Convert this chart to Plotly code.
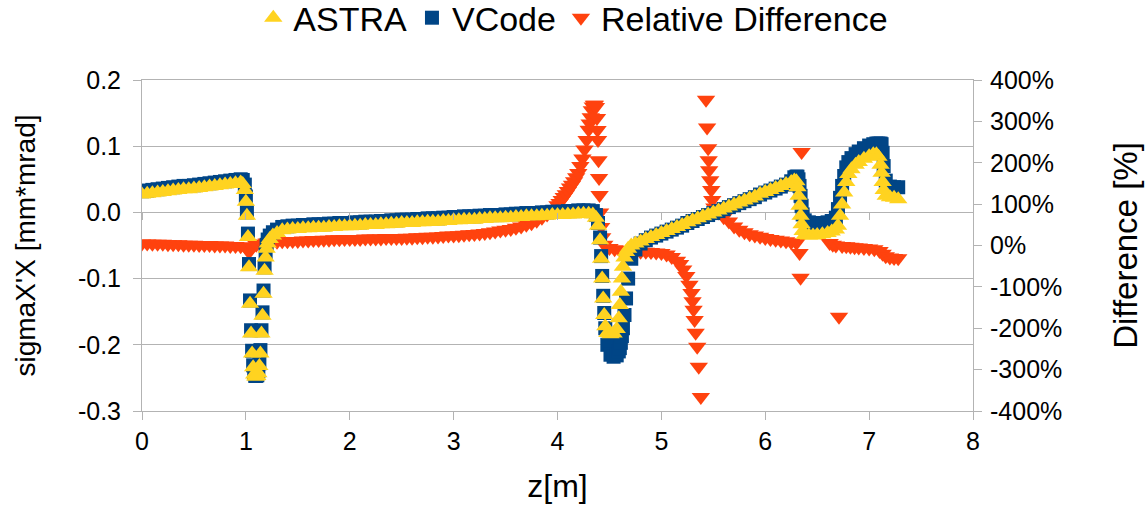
import plotly.graph_objects as go

# Longitudinal positions [m] of the beam-size samples (ASTRA and VCode share them)
z_beam = [
    0.00, 0.05, 0.10, 0.15, 0.20, 0.25, 0.30, 0.35, 0.40, 0.45,
    0.50, 0.55, 0.60, 0.65, 0.70, 0.75, 0.80, 0.85, 0.90, 0.95,
    0.97, 0.99, 1.00, 1.01, 1.02, 1.03, 1.04, 1.05, 1.06, 1.07,
    1.08, 1.09, 1.10, 1.11, 1.12, 1.13, 1.14, 1.15, 1.16, 1.17,
    1.18, 1.19, 1.20, 1.21, 1.23, 1.26, 1.30,
    1.35, 1.40, 1.45, 1.50, 1.55, 1.60, 1.65, 1.70, 1.75, 1.80,
    1.85, 1.90, 1.95, 2.00, 2.05, 2.10, 2.15, 2.20, 2.25, 2.30,
    2.35, 2.40, 2.45, 2.50, 2.55, 2.60, 2.65, 2.70, 2.75, 2.80,
    2.85, 2.90, 2.95, 3.00, 3.05, 3.10, 3.15, 3.20, 3.25, 3.30,
    3.35, 3.40, 3.45, 3.50, 3.55, 3.60, 3.65, 3.70, 3.75, 3.80,
    3.85, 3.90, 3.95, 4.00, 4.05, 4.10, 4.15, 4.20, 4.25, 4.30,
    4.34, 4.37, 4.39, 4.41, 4.42, 4.43, 4.44, 4.45, 4.46, 4.48,
    4.51, 4.54, 4.57, 4.59, 4.60, 4.61, 4.62, 4.63, 4.645, 4.66,
    4.68, 4.71, 4.75, 4.80, 4.85, 4.90, 4.95, 5.00,
    5.05, 5.10, 5.15, 5.20, 5.25, 5.30, 5.35, 5.40, 5.45, 5.50,
    5.55, 5.60, 5.65, 5.70, 5.75, 5.80, 5.85, 5.90, 5.95, 6.00,
    6.05, 6.10, 6.15, 6.20, 6.25,
    6.28, 6.30, 6.31, 6.32, 6.33, 6.34, 6.35, 6.36, 6.38, 6.42,
    6.46, 6.50, 6.55, 6.60, 6.64, 6.68, 6.70, 6.72, 6.74, 6.76,
    6.78, 6.80, 6.83, 6.87, 6.90, 6.95, 7.00, 7.04, 7.07, 7.09,
    7.11, 7.12, 7.13, 7.14, 7.16, 7.20, 7.24, 7.28,
]

# sigmaX'X [mm*mrad] from ASTRA
astra = [
    0.027, 0.028, 0.029, 0.030, 0.031, 0.032, 0.033, 0.034, 0.035, 0.035,
    0.036, 0.037, 0.038, 0.039, 0.040, 0.041, 0.042, 0.043, 0.044, 0.045,
    0.043, 0.034, 0.016, -0.005, -0.037, -0.083, -0.138, -0.183, -0.213, -0.234,
    -0.245, -0.248, -0.248, -0.247, -0.243, -0.232, -0.213, -0.183, -0.156, -0.123,
    -0.088, -0.068, -0.055, -0.047, -0.040, -0.035, -0.031,
    -0.027, -0.026, -0.025, -0.025, -0.024, -0.024, -0.023, -0.023, -0.023, -0.022,
    -0.022, -0.021, -0.021, -0.021, -0.020, -0.020, -0.019, -0.019, -0.019, -0.018,
    -0.018, -0.017, -0.017, -0.016, -0.016, -0.016, -0.015, -0.015, -0.014, -0.014,
    -0.014, -0.013, -0.013, -0.012, -0.012, -0.011, -0.011, -0.011, -0.010, -0.010,
    -0.009, -0.009, -0.009, -0.008, -0.008, -0.007, -0.007, -0.006, -0.006, -0.006,
    -0.005, -0.005, -0.004, -0.004, -0.004, -0.003, -0.003, -0.002, -0.002, -0.002,
    -0.003, -0.008, -0.020, -0.042, -0.070, -0.100, -0.130, -0.155, -0.172, -0.182,
    -0.184, -0.183, -0.176, -0.160, -0.140, -0.120, -0.100, -0.082, -0.068, -0.060,
    -0.055, -0.050, -0.047, -0.044, -0.040, -0.037, -0.034, -0.031,
    -0.028, -0.025, -0.022, -0.019, -0.015, -0.012, -0.009, -0.006, -0.003, 0.000,
    0.003, 0.006, 0.009, 0.012, 0.015, 0.018, 0.021, 0.024, 0.028, 0.031,
    0.034, 0.037, 0.040, 0.043, 0.046,
    0.048, 0.047, 0.038, 0.025, 0.010, -0.005, -0.018, -0.028, -0.034, -0.035,
    -0.035, -0.034, -0.033, -0.031, -0.029, -0.026, -0.020, -0.005, 0.012, 0.030,
    0.046, 0.058, 0.065, 0.072, 0.076, 0.081, 0.085, 0.088, 0.088, 0.084,
    0.072, 0.060, 0.046, 0.034, 0.025, 0.023, 0.022, 0.020,
]

# sigmaX'X [mm*mrad] from VCode
vcode = [
    0.032, 0.033, 0.034, 0.035, 0.036, 0.037, 0.038, 0.039, 0.040, 0.040,
    0.041, 0.042, 0.043, 0.044, 0.045, 0.046, 0.047, 0.048, 0.049, 0.050,
    0.049, 0.042, 0.024, 0.000, -0.032, -0.078, -0.133, -0.178, -0.209, -0.231,
    -0.243, -0.247, -0.247, -0.246, -0.240, -0.228, -0.208, -0.178, -0.151, -0.118,
    -0.083, -0.062, -0.049, -0.041, -0.035, -0.030, -0.026,
    -0.022, -0.021, -0.020, -0.020, -0.019, -0.019, -0.018, -0.018, -0.018, -0.017,
    -0.017, -0.016, -0.016, -0.016, -0.015, -0.015, -0.014, -0.014, -0.014, -0.013,
    -0.013, -0.012, -0.012, -0.011, -0.011, -0.011, -0.010, -0.010, -0.009, -0.009,
    -0.009, -0.008, -0.008, -0.007, -0.007, -0.006, -0.006, -0.006, -0.005, -0.005,
    -0.004, -0.004, -0.004, -0.003, -0.003, -0.002, -0.002, -0.001, -0.001, -0.001,
    0.000, 0.000, 0.001, 0.001, 0.001, 0.002, 0.002, 0.003, 0.003, 0.003,
    0.002, -0.004, -0.016, -0.038, -0.066, -0.096, -0.126, -0.152, -0.175, -0.200,
    -0.215, -0.218, -0.216, -0.210, -0.205, -0.197, -0.187, -0.175, -0.155, -0.130,
    -0.100, -0.070, -0.056, -0.047, -0.042, -0.038, -0.035, -0.032,
    -0.029, -0.026, -0.023, -0.020, -0.016, -0.013, -0.010, -0.007, -0.004, -0.001,
    0.002, 0.005, 0.008, 0.011, 0.014, 0.017, 0.020, 0.023, 0.027, 0.030,
    0.033, 0.036, 0.039, 0.042, 0.047,
    0.053, 0.054, 0.054, 0.050, 0.040, 0.025, 0.010, -0.003, -0.012, -0.015,
    -0.016, -0.016, -0.016, -0.015, -0.013, -0.008, 0.005, 0.022, 0.040, 0.055,
    0.068, 0.076, 0.082, 0.088, 0.092, 0.097, 0.101, 0.103, 0.104, 0.104,
    0.104, 0.103, 0.090, 0.070, 0.048, 0.039, 0.038, 0.038,
]

# Positions [m] and relative difference [%] between the two codes
z_diff = [
    0.00, 0.05, 0.10, 0.15, 0.20, 0.25, 0.30, 0.35, 0.40, 0.45,
    0.50, 0.55, 0.60, 0.65, 0.70, 0.75, 0.80, 0.85, 0.90, 0.95,
    1.00, 1.03, 1.06, 1.10, 1.15, 1.20, 1.25, 1.30,
    1.35, 1.40, 1.45, 1.50, 1.55, 1.60, 1.65, 1.70, 1.75, 1.80,
    1.85, 1.90, 1.95, 2.00, 2.05, 2.10, 2.15, 2.20, 2.25, 2.30,
    2.35, 2.40, 2.45, 2.50, 2.55, 2.60, 2.65, 2.70, 2.75, 2.80,
    2.85, 2.90, 2.95, 3.00, 3.05, 3.10, 3.15, 3.20, 3.25, 3.30,
    3.35, 3.40, 3.45, 3.50, 3.55, 3.60, 3.65, 3.70, 3.75, 3.80,
    3.85, 3.90,
    3.93, 3.96, 4.00, 4.02, 4.04, 4.06, 4.08, 4.10, 4.12, 4.14,
    4.16, 4.18, 4.20, 4.22, 4.24, 4.26, 4.28, 4.30, 4.31, 4.32,
    4.33, 4.34, 4.35, 4.36, 4.37, 4.38, 4.385, 4.39, 4.395, 4.40,
    4.405, 4.41, 4.42, 4.43, 4.45,
    4.50, 4.55, 4.60, 4.65, 4.70, 4.75, 4.80, 4.85, 4.90, 4.95,
    5.00, 5.05, 5.10, 5.15, 5.18, 5.21, 5.24, 5.27, 5.29, 5.30,
    5.31, 5.32, 5.33, 5.345, 5.36, 5.38,
    5.43, 5.44, 5.45, 5.455, 5.46, 5.47, 5.48, 5.49, 5.51, 5.55,
    5.60, 5.65, 5.70, 5.75, 5.80, 5.85, 5.90, 5.95, 6.00, 6.05,
    6.10, 6.15, 6.20, 6.25, 6.30,
    6.33, 6.34, 6.35, 6.62, 6.65, 6.68, 6.71, 6.74, 6.78, 6.82,
    6.86, 6.90, 6.95, 7.00, 7.05, 7.10, 7.13, 7.16, 7.20, 7.24,
    7.28,
]
rel_diff = [
    5, 5, 4, 4, 4, 3, 3, 3, 2, 2,
    2, 1, 1, 1, 0, 0, 0, -1, -1, -2,
    -5, -16, -4, 2, 5, 7, 8, 9,
    10, 10, 11, 11, 12, 12, 13, 13, 14, 14,
    15, 15, 16, 16, 16, 16, 17, 17, 17, 17,
    18, 18, 18, 18, 19, 19, 20, 20, 21, 21,
    22, 23, 24, 24, 25, 26, 27, 28, 29, 30,
    32, 34, 36, 38, 40, 43, 46, 50, 54, 60,
    67, 75,
    81, 88, 97, 103, 110, 117, 124, 132, 140, 147,
    155, 165, 175, 192, 210, 232, 255, 280, 295, 310,
    327, 336, 340, 340, 335, 308, 279, 255, 206, 163,
    122, 80, 45, 20, 2,
    -6, -9, -11, -12, -13, -14, -15, -15, -16, -17,
    -18, -22, -28, -37, -45, -58, -74, -95, -115, -135,
    -155, -180, -211, -245, -293, -366,
    352, 285, 235, 206, 182, 158, 134, 110, 92, 80,
    68, 58, 46, 38, 32, 27, 24, 21, 18, 16,
    14, 12, 10, 8, 6,
    -18, -78, 226, 6, 2, 0, -172, -1, -2, -3,
    -4, -5, -6, -7, -9, -13, -20, -26, -29, -30,
    -31,
]

# Axis ticks
z_ticks = [0, 1, 2, 3, 4, 5, 6, 7, 8]
z_tick_text = ["0", "1", "2", "3", "4", "5", "6", "7", "8"]
sigma_ticks = [-0.3, -0.2, -0.1, 0.0, 0.1, 0.2]
sigma_tick_text = ["-0.3", "-0.2", "-0.1", "0.0", "0.1", "0.2"]
pct_ticks = [-400, -300, -200, -100, 0, 100, 200, 300, 400]
pct_tick_text = ["-400%", "-300%", "-200%", "-100%", "0%", "100%", "200%", "300%", "400%"]

YELLOW = "#FFD320"
BLUE = "#004586"
ORANGE = "#FF420E"
GRID = "#B3B3B3"
FONT = "Liberation Sans, Arial, sans-serif"

fig = go.Figure()

# Relative difference sits on the primary (right-hand, percent) axis so it is drawn underneath
fig.add_trace(go.Scatter(
    x=z_diff, y=rel_diff, name="Relative Difference", mode="markers",
    marker=dict(symbol="triangle-down", size=16, color=ORANGE, line=dict(width=0)),
    xaxis="x", yaxis="y", legendrank=3,
))
fig.add_trace(go.Scatter(
    x=z_beam, y=vcode, name="VCode", mode="markers",
    marker=dict(symbol="square", size=14, color=BLUE, line=dict(width=0)),
    xaxis="x", yaxis="y2", legendrank=2,
))
fig.add_trace(go.Scatter(
    x=z_beam, y=astra, name="ASTRA", mode="markers",
    marker=dict(symbol="triangle-up", size=16, color=YELLOW, line=dict(width=0)),
    xaxis="x", yaxis="y2", legendrank=1,
))
# carrier for the tick row drawn along sigma = 0
fig.add_trace(go.Scatter(x=[], y=[], xaxis="x2", yaxis="y2",
                         showlegend=False, hoverinfo="skip"))

axis_font = dict(family=FONT, size=25, color="black")

fig.update_layout(
    width=1147, height=510,
    margin=dict(l=142, r=174, t=80, b=99, autoexpand=False),
    paper_bgcolor="white", plot_bgcolor="white",
    font=dict(family=FONT, color="black"),
    showlegend=True,
    legend=dict(
        orientation="h", x=0.519, xanchor="center", y=1.187, yanchor="middle",
        font=dict(family=FONT, size=34, color="black"),
        itemwidth=30, bgcolor="rgba(0,0,0,0)",
    ),
    xaxis=dict(
        range=[0, 8], tickvals=z_ticks, ticktext=z_tick_text,
        showgrid=False, zeroline=False,
        showline=True, linecolor=GRID, linewidth=1, mirror=True,
        ticks="outside", ticklen=8, tickcolor=GRID,
        tickfont=axis_font,
        title=dict(text="z[m]", font=dict(family=FONT, size=32, color="black"), standoff=20),
    ),
    xaxis2=dict(
        range=[0, 8], overlaying="x", anchor="free", position=0.6,
        tickvals=z_ticks, showticklabels=False,
        showgrid=False, zeroline=False, showline=False,
        ticks="outside", ticklen=7, tickcolor=GRID,
    ),
    yaxis=dict(
        range=[-400, 400], side="right", tickvals=pct_ticks, ticktext=pct_tick_text,
        showgrid=False, zeroline=False,
        showline=True, linecolor=GRID, linewidth=1,
        ticks="outside", ticklen=8, tickcolor=GRID,
        tickfont=axis_font, ticklabelstandoff=3,
        title=dict(text="Difference [%]", font=dict(family=FONT, size=33, color="black"),
                   standoff=52),
    ),
    yaxis2=dict(
        range=[-0.3, 0.2], side="left", overlaying="y",
        tickvals=sigma_ticks, ticktext=sigma_tick_text,
        showgrid=True, gridcolor=GRID, gridwidth=1,
        zeroline=True, zerolinecolor=GRID, zerolinewidth=1,
        showline=True, linecolor=GRID, linewidth=1,
        ticks="outside", ticklen=8, tickcolor=GRID,
        tickfont=axis_font, ticklabelstandoff=7,
        title=dict(text="sigmaX'X [mm*mrad]", font=dict(family=FONT, size=28, color="black"),
                   standoff=34),
    ),
)

fig.write_html("out.html")
